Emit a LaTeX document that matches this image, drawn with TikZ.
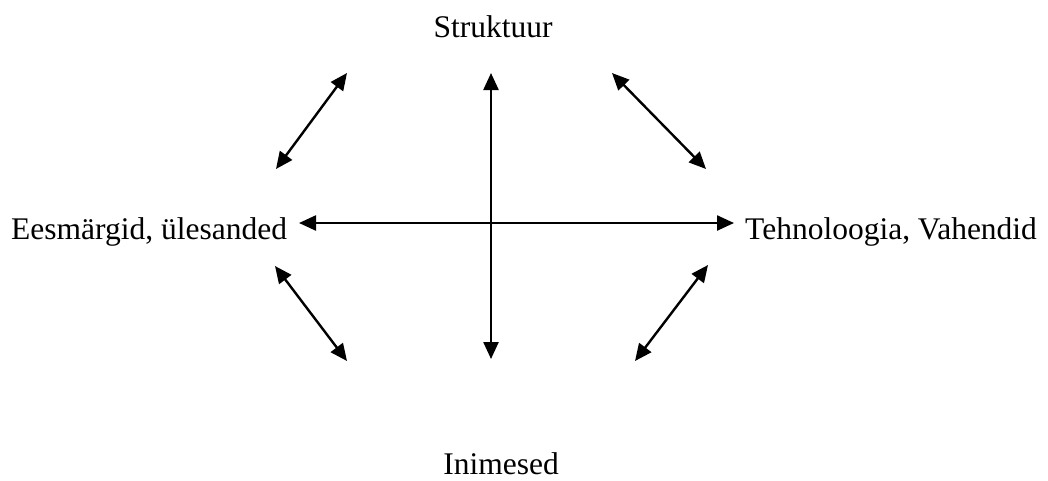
\documentclass[tikz,border=0pt]{standalone}
\usepackage{fontspec}
\setmainfont{Liberation Serif}
\usetikzlibrary{arrows.meta}
\begin{document}
\begin{tikzpicture}[x=1pt,y=-1pt,
  lbl/.style={inner sep=0pt,font=\fontsize{31.5}{37}\selectfont},
  tip/.style={Triangle[length=17pt,width=15pt]},
  dbl/.style={line width=2.4pt,{Triangle[length=17pt,width=15pt]}-{Triangle[length=17pt,width=15pt]}}]
\useasboundingbox (0,0) rectangle (1048,480);
\node[lbl,anchor=base] (s) at (493,37) {Struktuur};
\node[lbl,anchor=base west] (e) at (11,239) {Eesmärgid, ülesanded};
\node[lbl,anchor=base west] (t) at (745,239) {Tehnoloogia, Vahendid};
\node[lbl,anchor=base] (i) at (501,474) {Inimesed};
\coordinate (vt) at (491,73);
\coordinate (vb) at (491,359);
\coordinate (hl) at (299,223);
\coordinate (hr) at (734,223);
\coordinate (a1) at (276,169);
\coordinate (a2) at (347,73);
\coordinate (b1) at (612,73);
\coordinate (b2) at (706,169);
\coordinate (c1) at (275,266);
\coordinate (c2) at (347,361);
\coordinate (d1) at (635,361);
\coordinate (d2) at (708,265);
\draw[dbl] (vt) -- (vb);
\draw[dbl] (hl) -- (hr);
\draw[dbl] (a1) -- (a2);
\draw[dbl] (b1) -- (b2);
\draw[dbl] (c1) -- (c2);
\draw[dbl] (d1) -- (d2);
\end{tikzpicture}
\end{document}
